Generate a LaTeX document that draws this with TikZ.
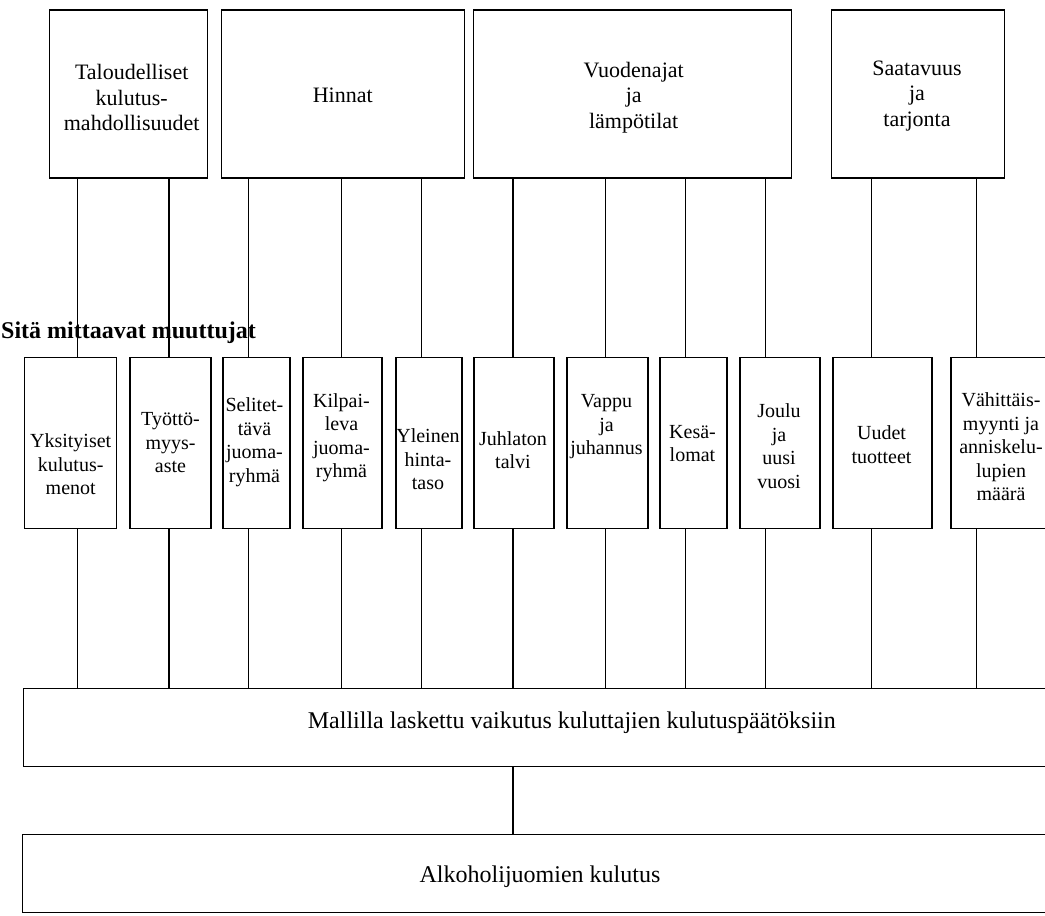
\documentclass[tikz,border=0pt]{standalone}
\usepackage{fontspec}
\setmainfont{Liberation Serif}
\begin{document}
\begin{tikzpicture}[x=1pt,y=-1pt,
  topbox/.style={draw, line width=1.3pt, inner sep=0pt, minimum height=168pt},
  midbox/.style={draw, line width=1.3pt, inner sep=0pt, minimum height=171pt},
  widebox/.style={inner sep=0pt, minimum height=77pt},
  toptext/.style={align=center, inner sep=0pt, font=\fontsize{22}{25.5}\selectfont},
  midtext/.style={align=center, inner sep=0pt, font=\fontsize{20}{23.5}\selectfont},
  lowtext/.style={inner sep=0pt, font=\fontsize{24}{28}\selectfont},
  heading/.style={inner sep=0pt, anchor=west, font=\bfseries\fontsize{24}{28}\selectfont},
  link/.style={line width=1.1pt},
  frame/.style={line width=1.3pt},
]
\useasboundingbox (0,0) rectangle (1045,916);
\clip (0,0) rectangle (1045,916);

% top row
\node[topbox, minimum width=158pt] (T) at (128.7,94) {};
\node[toptext] (Tt) at (131.7,97.7) {Taloudelliset\\kulutus-\\mahdollisuudet};
\node[topbox, minimum width=243pt] (H) at (343.2,94) {};
\node[toptext] (Ht) at (342.7,95.5) {Hinnat};
\node[topbox, minimum width=318pt] (V) at (632.7,94) {};
\node[toptext] (Vt) at (633.7,97.6) {Vuodenajat\\ja\\lämpötilat};
\node[topbox, minimum width=173pt] (S) at (918.2,94) {};
\node[toptext] (St) at (917,96) {Saatavuus\\ja\\tarjonta};

% heading
\node[heading] (hd) at (1,333) {Sitä mittaavat muuttujat};

% middle row
\node[midbox, minimum width=92pt] (b1) at (70.7,443) {};
\node[midtext] (b1t) at (70.7,464.5) {Yksityiset\\kulutus-\\menot};
\node[midbox, minimum width=81pt] (b2) at (170.5,443) {};
\node[midtext] (b2t) at (170.5,443) {Työttö-\\myys-\\aste};
\node[midbox, minimum width=67pt] (b3) at (256.5,443) {};
\node[midtext] (b3t) at (254.5,442) {Selitet-\\tävä\\juoma-\\ryhmä};
\node[midbox, minimum width=79pt] (b4) at (342.5,443) {};
\node[midtext] (b4t) at (341.5,437.6) {Kilpai-\\leva\\juoma-\\ryhmä};
\node[midbox, minimum width=66pt] (b5) at (429,443) {};
\node[midtext] (b5t) at (428,459.4) {Yleinen\\hinta-\\taso};
\node[midbox, minimum width=80pt] (b6) at (514,443) {};
\node[midtext] (b6t) at (513,450) {Juhlaton\\talvi};
\node[midbox, minimum width=81pt] (b7) at (607.5,443) {};
\node[midtext] (b7t) at (606.5,426.8) {Vappu\\ja\\juhannus};
\node[midbox, minimum width=67pt] (b8) at (693.5,443) {};
\node[midtext] (b8t) at (692.5,443.5) {Kesä-\\lomat};
\node[midbox, minimum width=80pt] (b9) at (780,443) {};
\node[midtext] (b9t) at (779,446.3) {Joulu\\ja\\uusi\\vuosi};
\node[midbox, minimum width=99pt] (b10) at (882.5,443) {};
\node[midtext] (b10t) at (881.5,444.8) {Uudet\\tuotteet};
\node[midbox, minimum width=98pt] (b11) at (1000,443) {};
\node[midtext] (b11t) at (1001,447) {Vähittäis-\\myynti ja\\anniskelu-\\lupien\\määrä};

% bottom boxes (open on the right)
\node[widebox, minimum width=1096pt] (M) at (572,727.5) {};
\draw[frame] (M.north east) -- (M.north west) -- (M.south west) -- (M.south east);
\node[lowtext] (Mt) at (571.8,722.3) {Mallilla laskettu vaikutus kuluttajien kulutuspäätöksiin};
\node[widebox, minimum width=1034pt] (A) at (540,873.5) {};
\draw[frame] (A.north east) -- (A.north west) -- (A.south west) -- (A.south east);
\node[lowtext] (At) at (540,877) {Alkoholijuomien kulutus};

% connectors
\foreach \i/\xx/\up in {1/77.5/T, 2/169/T, 3/248.5/H, 4/341.5/H, 5/421.5/H,
    6/513/V, 7/605.5/V, 8/685.5/V, 9/765.5/V, 10/871.5/S, 11/976.5/S} {
  \coordinate (c\i) at (\xx,0);
  \draw[link] (\up.south -| c\i) -- (b\i.north -| c\i);
  \draw[link] (b\i.south -| c\i) -- (M.north -| c\i);
}
\coordinate (cm) at (513,0);
\draw[link] (M.south -| cm) -- (A.north -| cm);
\end{tikzpicture}
\end{document}
